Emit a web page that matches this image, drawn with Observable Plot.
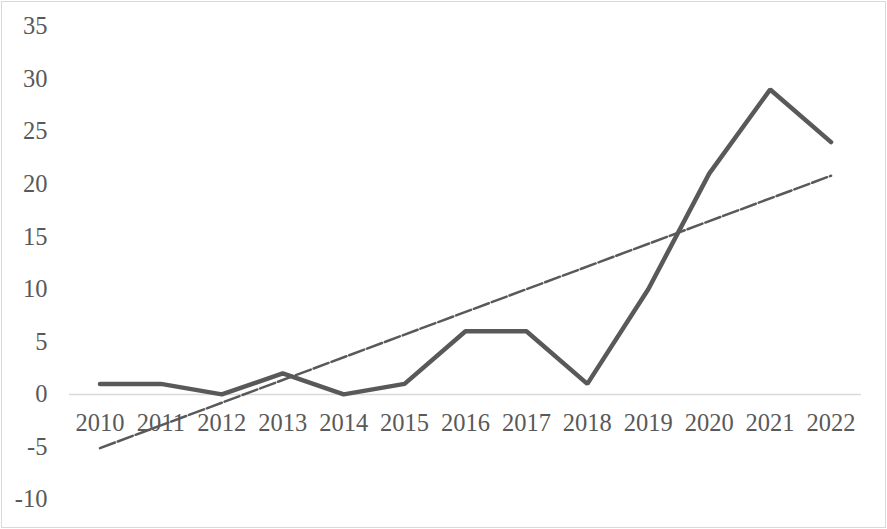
<!DOCTYPE html>
<html>
<head>
<meta charset="utf-8">
<script src="https://cdn.jsdelivr.net/npm/d3@7"></script>
<script src="https://cdn.jsdelivr.net/npm/@observablehq/plot@0.6"></script>
<style>
  html, body { margin: 0; padding: 0; background: #fff; }
  #chart svg { display: block; outline: 1px solid #d9d9d9; outline-offset: -2px; }
</style>
</head>
<body>
<div id="chart"></div>
<script>
const years = [2010, 2011, 2012, 2013, 2014, 2015, 2016, 2017, 2018, 2019, 2020, 2021, 2022];
const values = [1, 1, 0, 2, 0, 1, 6, 6, 1, 10, 21, 29, 24];
const yTicks = [-10, -5, 0, 5, 10, 15, 20, 25, 30, 35];

const data = years.map((year, i) => ({year, value: values[i]}));

const chart = Plot.plot({
  width: 887,
  height: 529,
  marginLeft: 69,
  marginRight: 26,
  marginTop: 26,
  marginBottom: 30,
  style: {fontFamily: "'Liberation Serif', 'Times New Roman', serif", fontSize: "24px", color: "#595959", background: "#fff"},
  x: {type: "linear", domain: [2009.5, 2022.5], axis: null},
  y: {domain: [-10, 35], axis: null},
  marks: [
    Plot.axisY({ticks: yTicks, tickFormat: d => String(d), tickSize: 0, tickPadding: 22, label: null, fontSize: 24.5, fill: "#595959"}),
    Plot.ruleY([0], {stroke: "#d9d9d9", strokeWidth: 1.5}),
    Plot.text(years, {x: d => d, y: () => 0, text: d => String(d), dy: 29, fontSize: 24.5, fill: "#595959"}),
    Plot.line(data, {x: "year", y: "value", stroke: "#595959", strokeWidth: 4.5, strokeLinejoin: "miter", strokeLinecap: "round"}),
    Plot.linearRegressionY(data, {x: "year", y: "value", ci: 0, stroke: "#595959", strokeWidth: 2.5, strokeDasharray: "16,3"})
  ]
});
document.getElementById("chart").appendChild(chart);
</script>
</body>
</html>
